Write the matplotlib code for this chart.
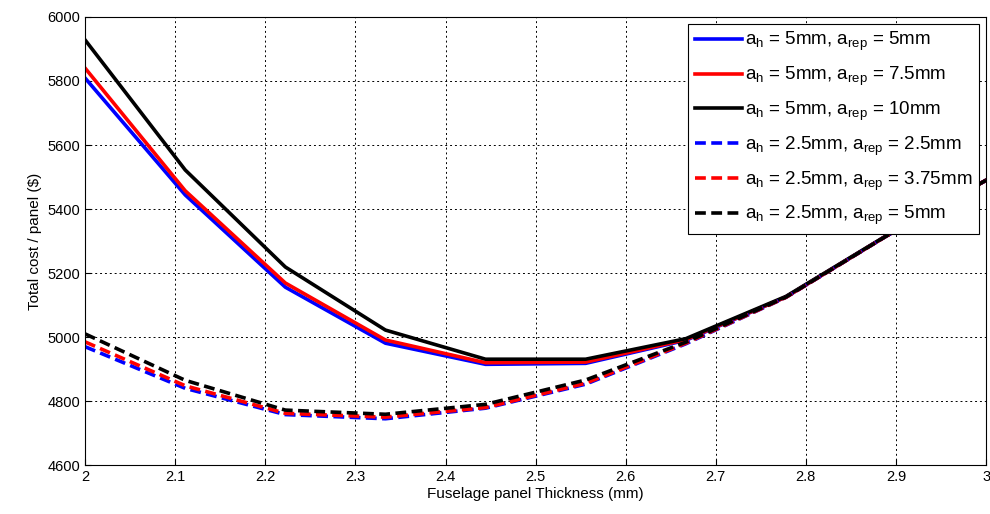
import matplotlib
matplotlib.use("Agg")
import matplotlib.pyplot as plt
import numpy as np

plt.rcParams["font.family"] = ["Liberation Sans", "DejaVu Sans"]
plt.rcParams["mathtext.fontset"] = "custom"
plt.rcParams["mathtext.rm"] = "Liberation Sans"
plt.rcParams["mathtext.it"] = "Liberation Sans"

# thickness points (mm)
thickness = np.linspace(2.0, 3.0, 10)

# total cost per panel ($)
cost_5_5 = [5809, 5444, 5156, 4981, 4915, 4918, 4990, 5125, 5315, 5490]
cost_5_75 = [5840, 5457, 5169, 4991, 4920, 4922, 4992, 5125, 5315, 5490]
cost_5_10 = [5928, 5522, 5219, 5022, 4931, 4931, 4995, 5127, 5316, 5490]
cost_25_25 = [4970, 4840, 4758, 4745, 4778, 4853, 4979, 5124, 5315, 5490]
cost_25_375 = [4985, 4848, 4762, 4750, 4780, 4856, 4981, 5124, 5315, 5490]
cost_25_5 = [5010, 4865, 4772, 4759, 4790, 4866, 4984, 5125, 5315, 5490]

labels = [
    r"a$_\mathregular{h}$ = 5mm, a$_\mathregular{rep}$ = 5mm",
    r"a$_\mathregular{h}$ = 5mm, a$_\mathregular{rep}$ = 7.5mm",
    r"a$_\mathregular{h}$ = 5mm, a$_\mathregular{rep}$ = 10mm",
    r"a$_\mathregular{h}$ = 2.5mm, a$_\mathregular{rep}$ = 2.5mm",
    r"a$_\mathregular{h}$ = 2.5mm, a$_\mathregular{rep}$ = 3.75mm",
    r"a$_\mathregular{h}$ = 2.5mm, a$_\mathregular{rep}$ = 5mm",
]
series = [cost_5_5, cost_5_75, cost_5_10, cost_25_25, cost_25_375, cost_25_5]
colors = ["#0000ff", "#ff0000", "#000000", "#0000ff", "#ff0000", "#000000"]
styles = ["-", "-", "-", "--", "--", "--"]

fig = plt.figure(figsize=(9.9, 5.14), dpi=100)
ax = fig.add_axes([0.086, 0.095, 0.91, 0.872])

for y, c, ls, lab in zip(series, colors, styles, labels):
    ax.plot(thickness, y, color=c, linestyle=ls, linewidth=2.6, label=lab,
            dashes=(3, 1.5) if ls == "--" else (None, None))

ax.set_xlim(2, 3)
ax.set_ylim(4600, 6000)
ax.set_xticks(np.arange(2, 3.01, 0.1))
ax.set_xticklabels(["2", "2.1", "2.2", "2.3", "2.4", "2.5", "2.6", "2.7", "2.8", "2.9", "3"])
ax.set_yticks(np.arange(4600, 6001, 200))
ax.tick_params(direction="in", labelsize=10.5, length=4)
ax.grid(True, color="black", linestyle=(0, (2, 3)), linewidth=0.7)
ax.set_xlabel("Fuselage panel Thickness (mm)", fontsize=11, labelpad=2)
ax.set_ylabel("Total cost / panel ($)", fontsize=11, labelpad=4)

leg = ax.legend(loc="upper right", fontsize=13.5, frameon=True, fancybox=False,
                handlelength=2.5, handletextpad=0.2, labelspacing=0.62,
                borderaxespad=0.35, borderpad=0.35)
leg.get_frame().set_edgecolor("black")
leg.get_frame().set_linewidth(0.8)
leg.get_frame().set_alpha(1)

fig.savefig("out.png", dpi=100)
